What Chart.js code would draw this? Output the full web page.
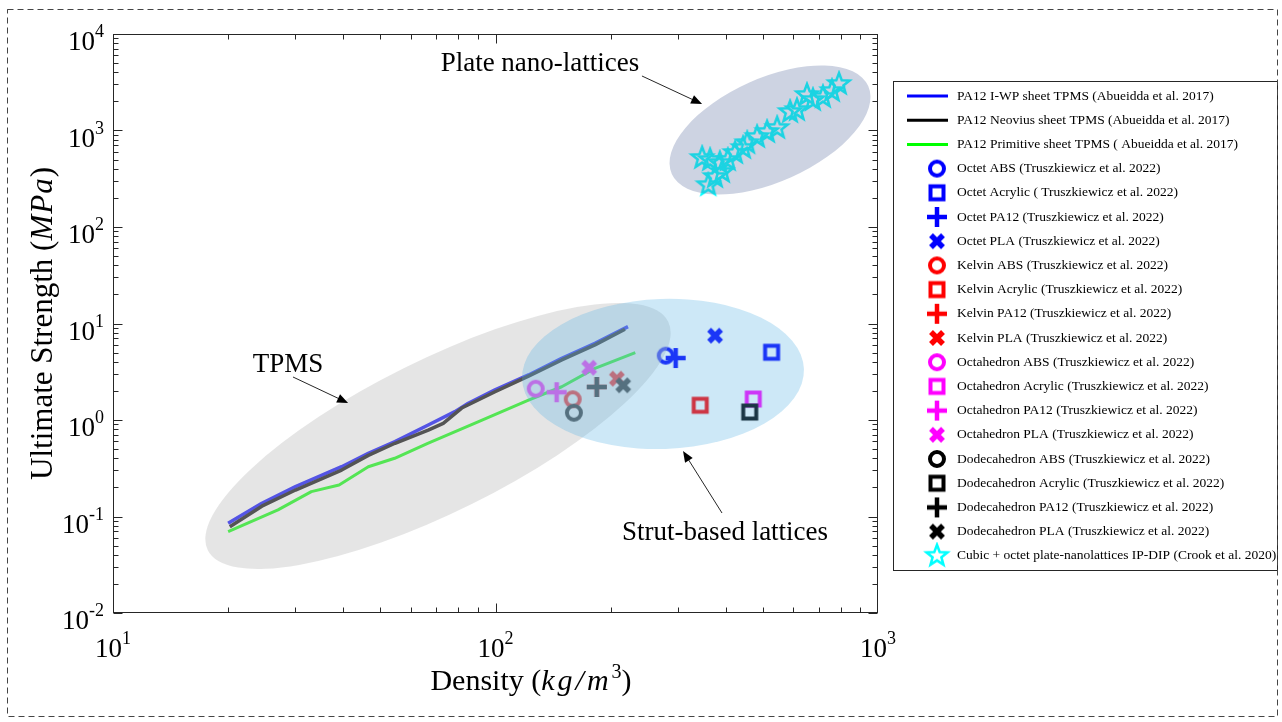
<!DOCTYPE html>
<html>
<head>
<meta charset="utf-8">
<script src="https://cdn.jsdelivr.net/npm/chart.js@4.4.1/dist/chart.umd.min.js"></script>
<style>
  html, body { margin: 0; padding: 0; background: #fff; }
</style>
</head>
<body>
<canvas id="grafico" width="1282" height="722"></canvas>
<script>
// eixos (log)
const xTicks = [10, 100, 1000];
const yTicks = [0.01, 0.1, 1, 10, 100, 1000, 10000];

// TPMS (Abueidda et al. 2017)
const iwpDensity = [20, 24.5, 30, 39.6, 46.5, 54.6, 66.7, 78.3, 84.9, 99.7, 122, 149, 182, 222];
const iwpStrength = [0.0851, 0.137, 0.204, 0.328, 0.452, 0.596, 0.887, 1.22, 1.49, 2.05, 2.93, 4.36, 6.23, 9.27];
const neoviusDensity = [20.2, 24.5, 30, 39.6, 46.5, 54.6, 66.7, 73, 81.6, 99.7, 122, 149, 182, 218];
const neoviusStrength = [0.0784, 0.128, 0.188, 0.303, 0.43, 0.574, 0.787, 0.924, 1.33, 1.96, 2.85, 4.19, 6.0, 8.71];
const primitiveDensity = [20, 27, 33, 39, 46.5, 54.5, 66.5, 90, 122, 149, 182, 232];
const primitiveStrength = [0.0695, 0.117, 0.181, 0.212, 0.328, 0.401, 0.574, 0.959, 1.61, 2.21, 3.43, 4.98];

// Truszkiewicz et al. 2022 -> ordem: ABS, Acrylic, PA12, PLA
const octetDensity = [278.6, 527, 295.8, 375];
const octetStrength = [4.64, 5.03, 4.39, 7.48];
const kelvinDensity = [159.2, 343, 184, 207.6];
const kelvinStrength = [1.64, 1.42, 2.2, 2.68];
const octahedronDensity = [127.4, 472, 144.5, 175.8];
const octahedronStrength = [2.11, 1.65, 1.94, 3.48];
const dodecaDensity = [160.3, 462, 184, 215.7];
const dodecaStrength = [1.19, 1.21, 2.2, 2.29];

// Crook et al. 2020
const crookDensity = [791, 758, 718, 676, 652, 614, 589, 545, 513, 483, 455, 444, 423, 405, 386, 364, 347, 391, 375, 360];
const crookStrength = [3034, 2566, 2224, 2070, 2333, 1630, 1555, 1062, 965, 857, 741, 659, 585, 494, 460, 494, 519, 372, 330, 272];

const legendas = [
  'PA12 I-WP sheet TPMS (Abueidda et al. 2017)',
  'PA12 Neovius sheet TPMS (Abueidda et al. 2017)',
  'PA12 Primitive sheet TPMS ( Abueidda et al. 2017)',
  'Octet ABS (Truszkiewicz et al. 2022)',
  'Octet Acrylic ( Truszkiewicz et al. 2022)',
  'Octet PA12 (Truszkiewicz et al. 2022)',
  'Octet PLA (Truszkiewicz et al. 2022)',
  'Kelvin ABS (Truszkiewicz et al. 2022)',
  'Kelvin Acrylic (Truszkiewicz et al. 2022)',
  'Kelvin PA12 (Truszkiewicz et al. 2022)',
  'Kelvin PLA (Truszkiewicz et al. 2022)',
  'Octahedron ABS (Truszkiewicz et al. 2022)',
  'Octahedron Acrylic (Truszkiewicz et al. 2022)',
  'Octahedron PA12 (Truszkiewicz et al. 2022)',
  'Octahedron PLA (Truszkiewicz et al. 2022)',
  'Dodecahedron ABS (Truszkiewicz et al. 2022)',
  'Dodecahedron Acrylic (Truszkiewicz et al. 2022)',
  'Dodecahedron PA12 (Truszkiewicz et al. 2022)',
  'Dodecahedron PLA (Truszkiewicz et al. 2022)',
  'Cubic + octet plate-nanolattices IP-DIP (Crook et al. 2020)'
];

// anotações (coordenadas em dados)
const notas = [
  { texto: 'Plate nano-lattices', x: 130.7, y: 4136 },
  { texto: 'TPMS', x: 28.68, y: 3.145 },
  { texto: 'Strut-based lattices', x: 398.1, y: 0.0571 }
];
const setas = [
  { de: [241.5, 3671], para: [346.8, 1882] },
  { de: [29.55, 2.79], para: [41.17, 1.50] },
  { de: [391, 0.1087], para: [309.2, 0.4774] }
];
const elipses = [
  { x: 70.74, y: 0.683, a: 257, b: 76, ang: -26.4, cor: 'rgba(195,195,195,0.43)' },
  { x: 274.1, y: 3.0, a: 141, b: 75, ang: -2, cor: 'rgba(90,180,230,0.3)' },
  { x: 522, y: 1012, a: 107.6, b: 51.8, ang: -24.1, cor: 'rgba(88,108,158,0.3)' }
];

const SERIF = '"Liberation Serif", "Times New Roman", serif';

function pontos(xs, ys) {
  return xs.map((x, i) => ({ x: x, y: ys[i] }));
}

// marcadores estilo MATLAB desenhados num canvas
function marcador(forma, cor) {
  const s = 28;
  const c = document.createElement('canvas');
  c.width = s; c.height = s;
  const g = c.getContext('2d');
  g.translate(s / 2, s / 2);
  g.strokeStyle = cor;
  g.lineJoin = 'miter';
  if (forma === 'circle') {
    g.lineWidth = 4;
    g.beginPath(); g.arc(0, 0, 7, 0, Math.PI * 2); g.stroke();
  } else if (forma === 'square') {
    g.lineWidth = 4;
    g.strokeRect(-6.5, -6.5, 13, 13);
  } else if (forma === 'plus') {
    g.lineWidth = 4.5;
    g.beginPath(); g.moveTo(-10, 0); g.lineTo(10, 0); g.moveTo(0, -10); g.lineTo(0, 10); g.stroke();
  } else if (forma === 'x') {
    g.lineWidth = 5.5;
    g.beginPath(); g.moveTo(-6, -6); g.lineTo(6, 6); g.moveTo(6, -6); g.lineTo(-6, 6); g.stroke();
  } else if (forma === 'star') {
    g.lineWidth = 2.5;
    g.beginPath();
    for (let i = 0; i < 10; i++) {
      const r = i % 2 === 0 ? 11 : 4.6;
      const a = -Math.PI / 2 + i * Math.PI / 5;
      if (i === 0) g.moveTo(r * Math.cos(a), r * Math.sin(a));
      else g.lineTo(r * Math.cos(a), r * Math.sin(a));
    }
    g.closePath(); g.stroke();
  }
  return c;
}

const formas = ['circle', 'square', 'plus', 'x'];
const grupos = [
  { cor: '#0000ff', xs: octetDensity, ys: octetStrength },
  { cor: '#ff0000', xs: kelvinDensity, ys: kelvinStrength },
  { cor: '#ff00ff', xs: octahedronDensity, ys: octahedronStrength },
  { cor: '#000000', xs: dodecaDensity, ys: dodecaStrength }
];

const datasets = [
  { data: pontos(iwpDensity, iwpStrength), borderColor: '#0000ff' },
  { data: pontos(neoviusDensity, neoviusStrength), borderColor: '#000000' },
  { data: pontos(primitiveDensity, primitiveStrength), borderColor: '#00ff00', borderWidth: 3 }
].map(d => Object.assign({ showLine: true, borderWidth: 3.5, pointRadius: 0, borderJoinStyle: 'round' }, d));

grupos.forEach(gr => {
  formas.forEach((f, k) => {
    datasets.push({
      data: [{ x: gr.xs[k], y: gr.ys[k] }],
      pointStyle: marcador(f, gr.cor),
      pointRadius: 9,
      showLine: false
    });
  });
});
datasets.push({
  data: pontos(crookDensity, crookStrength),
  pointStyle: marcador('star', '#00ffff'),
  pointRadius: 11,
  showLine: false
});
datasets.forEach((d, i) => { d.label = legendas[i]; d.order = -i; });

function seta(ctx, x1, y1, x2, y2) {
  const ang = Math.atan2(y2 - y1, x2 - x1);
  ctx.strokeStyle = '#262626';
  ctx.fillStyle = '#000';
  ctx.lineWidth = 1;
  ctx.beginPath(); ctx.moveTo(x1, y1); ctx.lineTo(x2 - 8 * Math.cos(ang), y2 - 8 * Math.sin(ang)); ctx.stroke();
  ctx.beginPath();
  ctx.moveTo(x2, y2);
  ctx.lineTo(x2 - 11 * Math.cos(ang) + 4.5 * Math.sin(ang), y2 - 11 * Math.sin(ang) - 4.5 * Math.cos(ang));
  ctx.lineTo(x2 - 11 * Math.cos(ang) - 4.5 * Math.sin(ang), y2 - 11 * Math.sin(ang) + 4.5 * Math.cos(ang));
  ctx.closePath(); ctx.fill();
}

function larguraParte(ctx, p) {
  ctx.font = p.f;
  return ctx.measureText(p.t).width + (p.sp || 0) * p.t.length;
}

function textoRico(ctx, partes, x0, by) {
  let x = x0;
  partes.forEach(p => {
    ctx.font = p.f;
    if (p.sp) {
      for (const ch of p.t) {
        ctx.fillText(ch, x, by + (p.dy || 0));
        x += ctx.measureText(ch).width + p.sp;
      }
    } else {
      ctx.fillText(p.t, x, by + (p.dy || 0));
      x += ctx.measureText(p.t).width;
    }
  });
}

function potencia(v) {
  return [
    { t: '10', f: '27px ' + SERIF },
    { t: String(Math.round(Math.log10(v))), f: '18px ' + SERIF, dy: -13 }
  ];
}

const decor = {
  id: 'decor',
  beforeDraw(chart) {
    const ctx = chart.ctx;
    ctx.save();
    ctx.fillStyle = '#fff';
    ctx.fillRect(0, 0, chart.width, chart.height);
    ctx.restore();
  },
  afterDatasetsDraw(chart) {
    const ctx = chart.ctx;
    const xs = chart.scales.x, ys = chart.scales.y;
    const area = chart.chartArea;

    ctx.save();
    ctx.beginPath(); ctx.rect(area.left, area.top, area.right - area.left, area.bottom - area.top); ctx.clip();
    elipses.forEach(e => {
      ctx.fillStyle = e.cor;
      ctx.beginPath();
      ctx.ellipse(xs.getPixelForValue(e.x), ys.getPixelForValue(e.y), e.a, e.b, e.ang * Math.PI / 180, 0, Math.PI * 2);
      ctx.fill();
    });
    ctx.restore();

    // caixa e ticks para dentro
    ctx.save();
    ctx.strokeStyle = '#262626';
    ctx.lineWidth = 1;
    const L = Math.round(area.left) + 0.5, R = Math.round(area.right) - 0.5;
    const T = Math.round(area.top) + 0.5, B = Math.round(area.bottom) - 0.5;
    ctx.strokeRect(L, T, R - L, B - T);
    ctx.beginPath();
    for (let d = Math.log10(xs.min); d < Math.log10(xs.max); d++) {
      for (let k = 1; k <= 9; k++) {
        const px = Math.round(xs.getPixelForValue(k * Math.pow(10, d))) + 0.5;
        const len = k === 1 ? 9 : 5;
        ctx.moveTo(px, B); ctx.lineTo(px, B - len);
        ctx.moveTo(px, T); ctx.lineTo(px, T + len);
      }
    }
    for (let d = Math.round(Math.log10(ys.min)); d < Math.round(Math.log10(ys.max)); d++) {
      for (let k = 1; k <= 9; k++) {
        const py = Math.round(ys.getPixelForValue(k * Math.pow(10, d))) + 0.5;
        const len = k === 1 ? 9 : 5;
        ctx.moveTo(L, py); ctx.lineTo(L + len, py);
        ctx.moveTo(R, py); ctx.lineTo(R - len, py);
      }
    }
    ctx.stroke();
    ctx.restore();

    // anotações
    ctx.save();
    setas.forEach(s => seta(ctx,
      xs.getPixelForValue(s.de[0]), ys.getPixelForValue(s.de[1]),
      xs.getPixelForValue(s.para[0]), ys.getPixelForValue(s.para[1])));
    ctx.fillStyle = '#000';
    ctx.font = '27px ' + SERIF;
    ctx.textAlign = 'center';
    ctx.textBaseline = 'alphabetic';
    notas.forEach(n => ctx.fillText(n.texto, xs.getPixelForValue(n.x), ys.getPixelForValue(n.y)));
    ctx.restore();
  },
  afterDraw(chart) {
    const ctx = chart.ctx;
    const xs = chart.scales.x, ys = chart.scales.y;
    ctx.save();
    ctx.fillStyle = '#000';
    ctx.textAlign = 'left';
    ctx.textBaseline = 'alphabetic';

    xTicks.forEach(v => {
      const partes = potencia(v);
      const w = partes.reduce((s, p) => s + larguraParte(ctx, p), 0);
      textoRico(ctx, partes, xs.getPixelForValue(v) - w / 2, 657);
    });
    yTicks.forEach(v => {
      const partes = potencia(v);
      const w = partes.reduce((s, p) => s + larguraParte(ctx, p), 0);
      textoRico(ctx, partes, 104 - w, ys.getPixelForValue(v) + 16);
    });

    // títulos dos eixos
    const tituloX = [
      { t: 'Density (', f: '30px ' + SERIF },
      { t: 'kg/m', f: 'italic 30px ' + SERIF, sp: 3 },
      { t: '3', f: '20px ' + SERIF, dy: -12 },
      { t: ')', f: '30px ' + SERIF }
    ];
    let w = tituloX.reduce((s, p) => s + larguraParte(ctx, p), 0);
    textoRico(ctx, tituloX, 531 - w / 2, 690);

    const tituloY = [
      { t: 'Ultimate Strength (', f: '31px ' + SERIF },
      { t: 'MPa', f: 'italic 31px ' + SERIF, sp: 1 },
      { t: ')', f: '31px ' + SERIF }
    ];
    w = tituloY.reduce((s, p) => s + larguraParte(ctx, p), 0);
    ctx.translate(52, (chart.chartArea.top + chart.chartArea.bottom) / 2);
    ctx.rotate(-Math.PI / 2);
    textoRico(ctx, tituloY, -w / 2, 0);
    ctx.restore();

    // legenda
    ctx.save();
    ctx.fillStyle = '#fff';
    ctx.fillRect(893.5, 81.5, 384, 489);
    ctx.strokeStyle = '#262626';
    ctx.lineWidth = 1;
    ctx.strokeRect(893.5, 81.5, 384, 489);
    ctx.font = '13.5px ' + SERIF;
    ctx.textBaseline = 'middle';
    chart.data.datasets.forEach((d, i) => {
      const y = 96 + i * 24.2;
      if (d.showLine) {
        ctx.strokeStyle = d.borderColor;
        ctx.lineWidth = 3;
        ctx.beginPath(); ctx.moveTo(907, y); ctx.lineTo(948, y); ctx.stroke();
      } else {
        const img = d.pointStyle;
        ctx.drawImage(img, 937 - img.width / 2, y - img.height / 2);
      }
      ctx.fillStyle = '#000';
      ctx.fillText(d.label, 957, y);
    });
    ctx.restore();

    // moldura tracejada
    ctx.save();
    ctx.strokeStyle = '#444';
    ctx.lineWidth = 1;
    ctx.setLineDash([6, 4]);
    ctx.strokeRect(7.5, 9.5, 1270, 707);
    ctx.restore();
  }
};

new Chart(document.getElementById('grafico'), {
  type: 'scatter',
  data: { datasets: datasets },
  options: {
    responsive: false,
    animation: false,
    events: [],
    layout: { padding: { left: 113, right: 404, top: 34, bottom: 109 } },
    scales: {
      x: { type: 'logarithmic', min: 10, max: 1000, display: false },
      y: { type: 'logarithmic', min: 0.01, max: 10000, display: false }
    },
    plugins: {
      legend: { display: false },
      tooltip: { enabled: false }
    }
  },
  plugins: [decor]
});
</script>
</body>
</html>
